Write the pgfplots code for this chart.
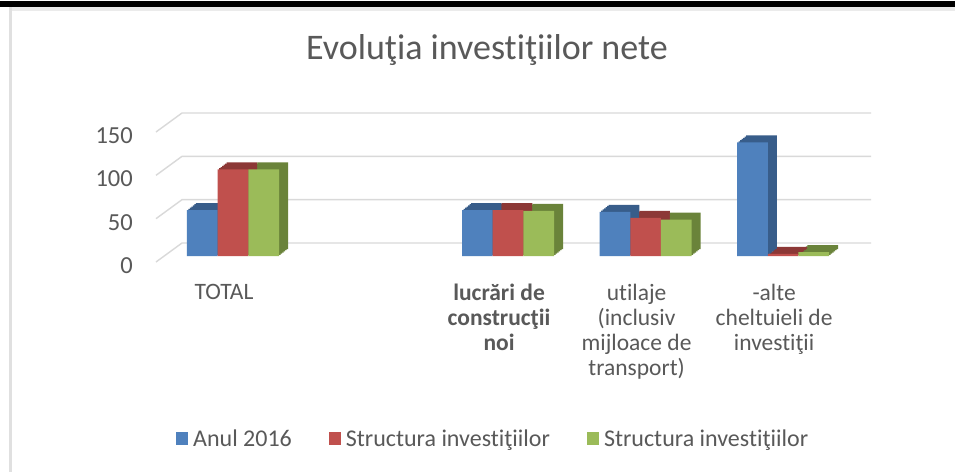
\documentclass[border=0pt]{standalone}
\usepackage{fontspec}
\setmainfont{Carlito}[Ligatures=NoCommon]
\usepackage{pgfplots}
\usepackage{pgfplotstable}
\pgfplotsset{compat=1.18}
\definecolor{txt}{HTML}{595959}
\definecolor{gridc}{HTML}{D9D9D9}
\definecolor{cB}{HTML}{4F81BD}
\definecolor{cR}{HTML}{C0504D}
\definecolor{cG}{HTML}{9BBB59}
\definecolor{dB}{HTML}{385D8A}
\definecolor{dR}{HTML}{8C3836}
\definecolor{dG}{HTML}{6A833A}
\pgfplotsset{sq/.style={legend image code/.code={\fill[#1] (0pt,-6.5pt) rectangle (12pt,6.5pt);}}}
\pgfplotstableread{
x A B C
0 53 100 100
2 53 53 52
3 51 44 42
4 131 2.5 4.5
}\datatab
\begin{document}
\begin{tikzpicture}[x=1pt,y=1pt]
\fill[white] (0,0) rectangle (955,472);
\fill[black] (0,465) rectangle (955,471);
\fill[black!8] (12,461) rectangle (955,465);
\fill[black!12] (9,0) rectangle (12,465);
\node[font=\fontsize{36}{42}\selectfont, text=txt, anchor=base] at (487,412) {Evoluţia investiţiilor nete};
\begin{axis}[
  at={(156pt,216pt)}, anchor=south west,
  scale only axis, width=689pt, height=130pt,
  xmin=-0.56, xmax=4.45, ymin=0, ymax=150,
  clip=false,
  axis line style={draw=none},
  tick style={draw=none},
  major tick length=0pt,
  ytick={0,50,100,150},
  xtick={0,2,3,4},
  xticklabels={{TOTAL},{\textbf{lucrări de}\\\textbf{construcţii}\\\textbf{noi}},{utilaje\\(inclusiv\\mijloace de\\transport)},{-alte\\cheltuieli de\\investiţii}},
  xticklabel style={font=\fontsize{23.5}{25}\selectfont, text=txt, align=center, anchor=north, inner sep=0pt, yshift=-28pt, xshift=-9pt},
  yticklabel style={font=\fontsize{24.5}{28}\selectfont, text=txt, anchor=east, inner sep=0pt, xshift=-23pt, yshift=-9.5pt},
  /pgf/number format/assume math mode=true,
  legend columns=3,
  legend style={at={(0.029,-1.404)}, anchor=west, draw=none, fill=none, inner sep=0pt,
    font=\fontsize{24}{28}\selectfont, text=txt, nodes={inner sep=0pt},
    /tikz/every odd column/.append style={column sep=5pt},
    /tikz/every even column/.append style={column sep=37pt}},
  legend cell align=left,
]
\pgfplotsinvokeforeach{0,50,100,150}{
  \draw[gridc, line width=1.4pt] ([yshift=-6pt]axis cs:-0.56,#1) -- ([xshift=26pt,yshift=13pt]axis cs:-0.56,#1) -- ([xshift=26pt,yshift=13pt]axis cs:4.45,#1);
}
% depth (shadow) copies, stepped to suggest the 3-D top and side faces
\pgfplotsinvokeforeach{1,2,3,4,5,6}{
\addplot[ybar, bar width=30.7pt, bar shift=-30.7pt, fill=dB, draw=none, xshift={1.5pt*#1}, yshift={7pt*#1/6}, forget plot] table[x=x,y=A] {\datatab};
\addplot[ybar, bar width=30.7pt, bar shift=0pt, fill=dR, draw=none, xshift={1.5pt*#1}, yshift={7pt*#1/6}, forget plot] table[x=x,y=B] {\datatab};
\addplot[ybar, bar width=30.7pt, bar shift=30.7pt, fill=dG, draw=none, xshift={1.5pt*#1}, yshift={7pt*#1/6}, forget plot] table[x=x,y=C] {\datatab};
}
% front faces
\addplot[ybar, bar width=30.7pt, bar shift=-30.7pt, fill=cB, draw=none, sq=cB] table[x=x,y=A] {\datatab};
\addplot[ybar, bar width=30.7pt, bar shift=0pt, fill=cR, draw=none, sq=cR] table[x=x,y=B] {\datatab};
\addplot[ybar, bar width=30.7pt, bar shift=30.7pt, fill=cG, draw=none, sq=cG] table[x=x,y=C] {\datatab};
\legend{Anul 2016, Structura investiţiilor, Structura investiţiilor}
\end{axis}
\end{tikzpicture}
\end{document}
